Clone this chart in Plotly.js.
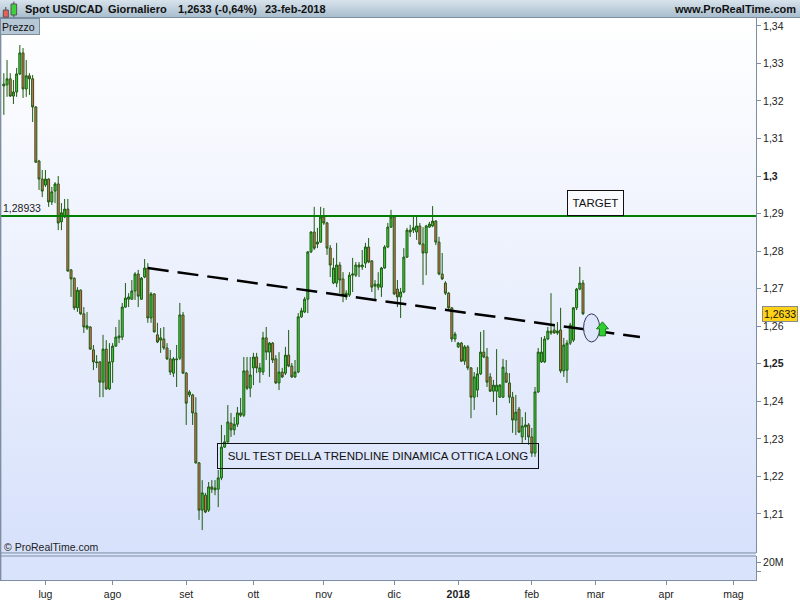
<!DOCTYPE html>
<html>
<head>
<meta charset="utf-8">
<script src="https://cdn.plot.ly/plotly-3.0.1.min.js"></script>
<style>
body{margin:0;background:#ffffff;}
#wrap{position:relative;width:800px;height:600px;overflow:hidden;}
#hdr{position:absolute;left:0;top:0;width:800px;height:18px;background:linear-gradient(#d8e3ec,#a9bece);border-bottom:1px solid #7c8e9f;box-sizing:border-box;}
#bgmain{position:absolute;left:0;top:18px;width:756px;height:535px;background:linear-gradient(#ffffff,#d7e1fb);}
#bgvol{position:absolute;left:0;top:553px;width:756px;height:27px;background:#dae3fc;}
#chart{position:absolute;left:0;top:0;width:800px;height:600px;}
</style>
</head>
<body>
<div id="wrap">
  <div id="hdr"></div>
  <div id="bgmain"></div>
  <div id="bgvol"></div>
  <div id="chart"></div>
</div>
<script>
// ---- data (USD/CAD daily) ----
const firstDay = '2017-06-14';
const closedDays = ['2017-12-25'];

const opens = [1.3240,1.3243,1.3259,1.3213,1.3224,1.3272,1.3328,1.3232,1.3267,1.3259,
1.3184,1.3040,1.2992,1.2976,1.2992,1.2931,1.2960,1.2979,1.2878,1.2891,
1.2912,1.2750,1.2728,1.2649,1.2696,1.2633,1.2595,1.2598,1.2537,1.2505,
1.2505,1.2451,1.2539,1.2433,1.2505,1.2547,1.2569,1.2571,1.2651,1.2672,
1.2672,1.2694,1.2739,1.2672,1.2731,1.2755,1.2622,1.2686,1.2577,1.2563,
1.2566,1.2542,1.2513,1.2475,1.2513,1.2515,1.2630,1.2475,1.2417,1.2417,
1.2369,1.2236,1.2110,1.2150,1.2110,1.2172,1.2164,1.2166,1.2196,1.2278,
1.2292,1.2342,1.2324,1.2339,1.2369,1.2363,1.2481,1.2435,1.2489,1.2518,
1.2478,1.2478,1.2569,1.2531,1.2555,1.2513,1.2449,1.2478,1.2475,1.2523,
1.2494,1.2465,1.2478,1.2625,1.2638,1.2672,1.2798,1.2851,1.2819,1.2824,
1.2891,1.2875,1.2808,1.2715,1.2715,1.2763,1.2726,1.2678,1.2683,1.2736,
1.2736,1.2763,1.2758,1.2768,1.2811,1.2774,1.2707,1.2704,1.2704,1.2755,
1.2811,1.2864,1.2891,1.2699,1.2678,1.2691,1.2784,1.2856,1.2856,1.2851,
1.2867,1.2819,1.2795,1.2864,1.2867,1.2880,1.2824,1.2739,1.2715,1.2688,
1.2649,1.2566,1.2545,1.2555,1.2507,1.2545,1.2489,1.2411,1.2430,1.2473,
1.2531,1.2518,1.2465,1.2427,1.2427,1.2411,1.2411,1.2475,1.2449,1.2411,
1.2350,1.2379,1.2305,1.2332,1.2337,1.2305,1.2262,1.2425,1.2505,1.2505,
1.2566,1.2582,1.2590,1.2582,1.2590,1.2481,1.2483,1.2555,1.2563,1.2649,
1.2699,1.2715];

const highs = [1.3274,1.3309,1.3274,1.3256,1.3288,1.3349,1.3341,1.3309,1.3274,1.3269,
1.3186,1.3043,1.3016,1.3016,1.2994,1.2971,1.2984,1.3000,1.2928,1.2939,
1.2939,1.2752,1.2730,1.2704,1.2698,1.2651,1.2638,1.2600,1.2550,1.2523,
1.2507,1.2577,1.2563,1.2555,1.2555,1.2598,1.2617,1.2662,1.2715,1.2688,
1.2723,1.2744,1.2750,1.2731,1.2779,1.2768,1.2691,1.2688,1.2609,1.2595,
1.2598,1.2555,1.2537,1.2518,1.2550,1.2662,1.2638,1.2478,1.2430,1.2420,
1.2411,1.2238,1.2190,1.2156,1.2185,1.2190,1.2190,1.2217,1.2337,1.2310,
1.2390,1.2369,1.2358,1.2385,1.2409,1.2518,1.2518,1.2518,1.2529,1.2529,
1.2502,1.2585,1.2598,1.2558,1.2558,1.2523,1.2531,1.2489,1.2545,1.2590,
1.2502,1.2510,1.2635,1.2649,1.2678,1.2800,1.2853,1.2918,1.2862,1.2918,
1.2915,1.2878,1.2816,1.2782,1.2822,1.2771,1.2744,1.2696,1.2744,1.2782,
1.2771,1.2771,1.2803,1.2822,1.2835,1.2776,1.2723,1.2744,1.2758,1.2816,
1.2875,1.2910,1.2896,1.2723,1.2702,1.2808,1.2862,1.2870,1.2891,1.2891,
1.2875,1.2864,1.2870,1.2878,1.2920,1.2883,1.2838,1.2795,1.2720,1.2691,
1.2651,1.2585,1.2558,1.2558,1.2550,1.2550,1.2491,1.2478,1.2491,1.2585,
1.2590,1.2542,1.2475,1.2457,1.2539,1.2446,1.2513,1.2510,1.2475,1.2425,
1.2417,1.2385,1.2358,1.2371,1.2342,1.2329,1.2438,1.2542,1.2571,1.2574,
1.2598,1.2688,1.2603,1.2611,1.2649,1.2569,1.2563,1.2609,1.2651,1.2702,
1.2758,1.2723];

const lows = [1.3163,1.3211,1.3211,1.3192,1.3211,1.3269,1.3208,1.3211,1.3216,1.3144,
1.3035,1.2963,1.2944,1.2971,1.2918,1.2923,1.2928,1.2856,1.2856,1.2888,
1.2745,1.2678,1.2643,1.2638,1.2630,1.2582,1.2590,1.2537,1.2483,1.2489,
1.2411,1.2411,1.2430,1.2430,1.2449,1.2545,1.2555,1.2563,1.2649,1.2651,
1.2670,1.2670,1.2651,1.2670,1.2728,1.2609,1.2609,1.2583,1.2555,1.2529,
1.2537,1.2510,1.2470,1.2465,1.2438,1.2510,1.2473,1.2337,1.2411,1.2337,
1.2234,1.2084,1.2057,1.2102,1.2105,1.2156,1.2150,1.2118,1.2190,1.2276,
1.2289,1.2305,1.2310,1.2332,1.2358,1.2358,1.2430,1.2411,1.2443,1.2475,
1.2449,1.2470,1.2510,1.2465,1.2502,1.2446,1.2430,1.2462,1.2470,1.2491,
1.2462,1.2462,1.2475,1.2622,1.2635,1.2635,1.2795,1.2803,1.2808,1.2822,
1.2870,1.2790,1.2731,1.2712,1.2704,1.2688,1.2664,1.2670,1.2678,1.2691,
1.2731,1.2731,1.2750,1.2755,1.2768,1.2691,1.2670,1.2696,1.2678,1.2753,
1.2808,1.2862,1.2683,1.2651,1.2622,1.2688,1.2782,1.2838,1.2848,1.2830,
1.2816,1.2710,1.2736,1.2862,1.2864,1.2816,1.2736,1.2723,1.2683,1.2646,
1.2558,1.2558,1.2542,1.2505,1.2497,1.2483,1.2355,1.2377,1.2411,1.2470,
1.2515,1.2438,1.2425,1.2398,1.2363,1.2409,1.2409,1.2449,1.2395,1.2316,
1.2310,1.2316,1.2289,1.2297,1.2284,1.2252,1.2252,1.2422,1.2502,1.2502,
1.2563,1.2577,1.2580,1.2577,1.2475,1.2465,1.2449,1.2550,1.2558,1.2643,
1.2696,1.2630];

const closes = [1.3245,1.3259,1.3213,1.3224,1.3272,1.3328,1.3232,1.3267,1.3259,1.3184,
1.3037,1.2992,1.2960,1.2992,1.2931,1.2958,1.2979,1.2875,1.2902,1.2912,
1.2747,1.2726,1.2649,1.2696,1.2633,1.2598,1.2601,1.2539,1.2505,1.2503,
1.2451,1.2539,1.2433,1.2505,1.2547,1.2571,1.2574,1.2651,1.2675,1.2678,
1.2694,1.2739,1.2680,1.2728,1.2755,1.2622,1.2686,1.2585,1.2558,1.2569,
1.2542,1.2513,1.2478,1.2513,1.2511,1.2630,1.2475,1.2395,1.2425,1.2369,
1.2236,1.2110,1.2156,1.2105,1.2172,1.2166,1.2169,1.2196,1.2278,1.2292,
1.2345,1.2324,1.2339,1.2369,1.2363,1.2481,1.2435,1.2470,1.2518,1.2489,
1.2489,1.2569,1.2531,1.2555,1.2510,1.2449,1.2478,1.2465,1.2523,1.2494,
1.2465,1.2478,1.2625,1.2641,1.2672,1.2798,1.2851,1.2808,1.2824,1.2891,
1.2875,1.2808,1.2763,1.2755,1.2763,1.2723,1.2683,1.2688,1.2736,1.2739,
1.2763,1.2758,1.2763,1.2811,1.2771,1.2704,1.2712,1.2712,1.2755,1.2811,
1.2864,1.2891,1.2686,1.2678,1.2691,1.2784,1.2856,1.2851,1.2862,1.2867,
1.2819,1.2795,1.2867,1.2872,1.2880,1.2824,1.2739,1.2726,1.2688,1.2649,
1.2566,1.2579,1.2555,1.2507,1.2545,1.2489,1.2411,1.2465,1.2473,1.2531,
1.2518,1.2451,1.2427,1.2443,1.2443,1.2443,1.2491,1.2451,1.2411,1.2350,
1.2371,1.2318,1.2334,1.2337,1.2305,1.2262,1.2425,1.2531,1.2531,1.2566,
1.2587,1.2587,1.2582,1.2587,1.2481,1.2550,1.2555,1.2603,1.2649,1.2699,
1.2715,1.2633];

const targetLevel = 1.28933;
const trendX = ['2017-08-16', '2018-03-20 19:00'];
const trendY = [1.2755, 1.2571];
const lastPrice = 1.2633;

const monthTicks = ['2017-07-03','2017-08-01','2017-09-01','2017-10-02','2017-11-01','2017-12-01',
                    '2018-01-01','2018-02-01','2018-03-01','2018-04-02','2018-05-01'];
const monthLabels = ['lug','ago','set','ott','nov','dic','<b>2018</b>','feb','mar','apr','mag'];

const priceTicks = [1.21,1.22,1.23,1.24,1.25,1.26,1.27,1.28,1.29,1.30,1.31,1.32,1.33,1.34];
const priceLabels = ['1,21','1,22','1,23','1,24','<b>1,25</b>','1,26','1,27','1,28','1,29','<b>1,3</b>','1,31','1,32','1,33','1,34'];

// trading days (weekdays, minus closed days)
function tradingDays(start, n) {
  const out = [];
  const d = new Date(start + 'T00:00:00Z');
  while (out.length < n) {
    const wd = d.getUTCDay();
    const s = d.toISOString().slice(0, 10);
    if (wd !== 0 && wd !== 6 && closedDays.indexOf(s) < 0) out.push(s);
    d.setUTCDate(d.getUTCDate() + 1);
  }
  return out;
}
const dates = tradingDays(firstDay, closes.length);

const FONT = 'Arial, "Liberation Sans", sans-serif';
const DK = '#1e5a10';
const AX = '#7c8e9f';

const traces = [
  {
    type: 'candlestick', x: dates, open: opens, high: highs, low: lows, close: closes,
    xaxis: 'x', yaxis: 'y',
    increasing: {line: {color: DK, width: 1}, fillcolor: '#3dd23d'},
    decreasing: {line: {color: DK, width: 1}, fillcolor: '#ea6a5c'},
    whiskerwidth: 0, hoverinfo: 'skip', showlegend: false
  },
  {
    type: 'scatter', mode: 'lines', x: trendX, y: trendY, xaxis: 'x', yaxis: 'y',
    line: {color: '#000000', width: 2.5, dash: '21px,9px'}, hoverinfo: 'skip', showlegend: false
  },
  {type: 'scatter', mode: 'lines', x: [], y: [], xaxis: 'x', yaxis: 'y2', showlegend: false}
];

const yTop = 1.3421, yBot = 1.1996;

const layout = {
  width: 800, height: 600,
  margin: {l: 0, r: 44, t: 18, b: 20, pad: 0},
  paper_bgcolor: 'rgba(0,0,0,0)', plot_bgcolor: 'rgba(0,0,0,0)',
  separators: ',.',
  showlegend: false, hovermode: false,
  boxgap: 0.12,
  font: {family: FONT, size: 10.5, color: '#222'},
  xaxis: {
    type: 'date', anchor: 'y2', domain: [0, 1],
    range: ['2017-06-12 19:12', '2018-05-10 01:30'],
    rangebreaks: [{bounds: ['sat', 'mon']}, {values: closedDays}],
    rangeslider: {visible: false},
    tickmode: 'array', tickvals: monthTicks, ticktext: monthLabels,
    ticks: 'outside', ticklen: 4, tickcolor: AX,
    showline: true, linecolor: AX, linewidth: 1,
    showgrid: false, zeroline: false,
    tickfont: {family: FONT, size: 10.5, color: '#222'}
  },
  yaxis: {
    domain: [0.0481, 1], anchor: 'x', side: 'right',
    range: [yBot, yTop],
    tickmode: 'array', tickvals: priceTicks, ticktext: priceLabels,
    ticks: 'outside', ticklen: 4, tickcolor: AX,
    showline: true, linecolor: AX, linewidth: 1,
    showgrid: false, zeroline: false,
    tickfont: {family: FONT, size: 10.5, color: '#222'}
  },
  yaxis2: {
    domain: [0, 0.0427], anchor: 'x', side: 'right',
    range: [0, 26700000],
    tickmode: 'array', tickvals: [10000000, 20000000], ticktext: ['', '20M'],
    ticks: 'outside', ticklen: 4, tickcolor: AX,
    showline: true, linecolor: AX, linewidth: 1,
    showgrid: false, zeroline: false,
    tickfont: {family: FONT, size: 10.5, color: '#222'}
  },
  shapes: [
    // target line
    {type: 'line', xref: 'paper', x0: 0, x1: 1, yref: 'y', y0: targetLevel, y1: targetLevel,
     line: {color: '#007f00', width: 2}},
    // panel borders
    {type: 'line', xref: 'paper', x0: 0, x1: 1, yref: 'paper', y0: 0.0481, y1: 0.0481, line: {color: AX, width: 1}},
    {type: 'line', xref: 'paper', x0: 0, x1: 1, yref: 'paper', y0: 0.0427, y1: 0.0427, line: {color: AX, width: 1}},
    {type: 'line', xref: 'paper', x0: 0.0008, x1: 0.0008, yref: 'paper', y0: 0, y1: 1, line: {color: AX, width: 1.5}},
    // ellipse
    {type: 'circle', xref: 'x', yref: 'y', x0: '2018-02-23 04:00', x1: '2018-03-02 05:00',
     y0: 1.2558, y1: 1.2633, fillcolor: '#dde6fb', line: {color: '#333355', width: 1}, layer: 'above'},
    // green up arrow
    {type: 'path', xref: 'x', yref: 'y', xsizemode: 'pixel', ysizemode: 'pixel',
     xanchor: '2018-03-05 02:00', yanchor: 1.2593,
     path: 'M0,7 L6,0 L3,0 L3,-7 L-3,-7 L-3,0 L-6,0 Z',
     fillcolor: '#2fcf2f', line: {color: '#1a7a1a', width: 1}},
    // header icon: two tiny candles
    {type: 'line', xref: 'paper', yref: 'paper', x0: 0.0077, x1: 0.0077, y0: 1.0195, y1: 1.0018, line: {color: '#444', width: 1}},
    {type: 'rect', xref: 'paper', yref: 'paper', x0: 0.0044, x1: 0.011, y0: 1.0142, y1: 1.0015, fillcolor: '#e8605a', line: {color: '#555', width: 1}},
    {type: 'line', xref: 'paper', yref: 'paper', x0: 0.0183, x1: 0.0183, y0: 1.0290, y1: 1.0018, line: {color: '#444', width: 1}},
    {type: 'rect', xref: 'paper', yref: 'paper', x0: 0.0146, x1: 0.0220, y0: 1.0249, y1: 1.0053, fillcolor: '#3dd23d', line: {color: '#555', width: 1}}
  ],
  annotations: [
    {xref: 'paper', yref: 'paper', x: 0.0305, y: 1.016, xanchor: 'left', yanchor: 'middle', showarrow: false,
     text: '<b>Spot USD/CAD</b>', font: {family: FONT, size: 11, color: '#111'}},
    {xref: 'paper', yref: 'paper', x: 0.1402, y: 1.016, xanchor: 'left', yanchor: 'middle', showarrow: false,
     text: '<b>Giornaliero</b>', font: {family: FONT, size: 11, color: '#111'}},
    {xref: 'paper', yref: 'paper', x: 0.2328, y: 1.016, xanchor: 'left', yanchor: 'middle', showarrow: false,
     text: '<b>1,2633 (-0,64%)</b>', font: {family: FONT, size: 11, color: '#111'}},
    {xref: 'paper', yref: 'paper', x: 0.3479, y: 1.016, xanchor: 'left', yanchor: 'middle', showarrow: false,
     text: '<b>23-feb-2018</b>', font: {family: FONT, size: 11, color: '#111'}},
    {xref: 'paper', yref: 'paper', x: 1.0555, y: 1.016, xanchor: 'right', yanchor: 'middle', showarrow: false,
     text: '<b>www.ProRealTime.com</b>', font: {family: FONT, size: 11, color: '#111'}},
    {xref: 'paper', yref: 'paper', x: 0, y: 1, xanchor: 'left', yanchor: 'top', showarrow: false,
     text: 'Prezzo', font: {family: FONT, size: 10.5, color: '#111'},
     bgcolor: '#b6c7d6', bordercolor: AX, borderwidth: 1, borderpad: 1, width: 36, height: 13, align: 'left'},
    {xref: 'paper', yref: 'y', x: 0.001, y: targetLevel, xanchor: 'left', yanchor: 'bottom', showarrow: false,
     text: '1,28933', font: {family: FONT, size: 10.5, color: '#222'}},
    {xref: 'paper', yref: 'paper', x: 0.002, y: 0.0587, xanchor: 'left', yanchor: 'middle', showarrow: false,
     text: '© ProRealTime.com', font: {family: FONT, size: 10.5, color: '#222'}},
    {xref: 'x', yref: 'y', x: '2018-02-28 18:00', y: 1.2928, xanchor: 'center', yanchor: 'middle', showarrow: false,
     text: 'TARGET', font: {family: FONT, size: 11.5, color: '#111'},
     bgcolor: 'rgba(255,255,255,0.6)', bordercolor: '#111', borderwidth: 1, borderpad: 1, width: 53, height: 22},
    {xref: 'x', yref: 'y', x: '2017-11-23 22:00', y: 1.2254, xanchor: 'center', yanchor: 'middle', showarrow: false,
     text: 'SUL TEST DELLA TRENDLINE DINAMICA OTTICA LONG', font: {family: FONT, size: 11.5, color: '#111'},
     bgcolor: 'rgba(0,0,0,0)', bordercolor: '#111', borderwidth: 1, borderpad: 1, width: 318, height: 22},
    {xref: 'paper', yref: 'y', x: 1.0075, y: lastPrice, xanchor: 'left', yanchor: 'middle', showarrow: false,
     text: '1,2633', font: {family: FONT, size: 10.5, color: '#111'},
     bgcolor: '#ffd21a', bordercolor: '#8a8a8a', borderwidth: 1, borderpad: 1}
  ]
};

Plotly.newPlot('chart', traces, layout, {displayModeBar: false, staticPlot: true});
</script>
</body>
</html>
